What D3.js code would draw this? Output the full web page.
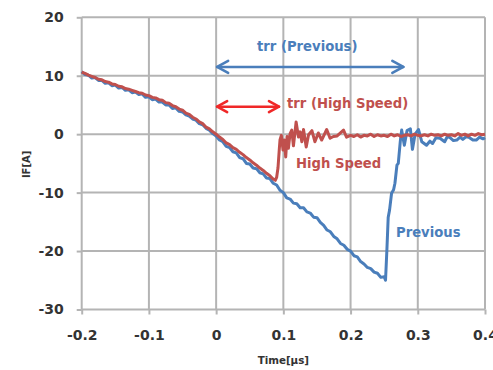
<!DOCTYPE html>
<html><head><meta charset="utf-8">
<script src="https://cdn.jsdelivr.net/npm/d3@7"></script>
<style>body{margin:0;background:#fff}svg{display:block}</style>
</head><body>
<svg id="c" width="493" height="370"></svg>
<script>
const xTicks = [-0.2, -0.1, 0, 0.1, 0.2, 0.3, 0.4];
const yTicks = [20, 10, 0, -10, -20, -30];

const prevTime = [-0.200,-0.195,-0.190,-0.185,-0.180,-0.175,-0.170,-0.165,-0.160,-0.155,-0.150,-0.145,-0.140,-0.135,-0.130,-0.125,-0.120,-0.115,-0.110,-0.105,-0.100,-0.095,-0.090,-0.085,-0.080,-0.075,-0.070,-0.065,-0.060,-0.055,-0.050,-0.045,-0.040,-0.035,-0.030,-0.025,-0.020,-0.015,-0.010,-0.005,0.000,0.005,0.010,0.015,0.020,0.025,0.030,0.035,0.040,0.045,0.050,0.055,0.060,0.065,0.070,0.075,0.080,0.085,0.090,0.095,0.100,0.105,0.110,0.115,0.120,0.125,0.130,0.135,0.140,0.145,0.150,0.155,0.160,0.165,0.170,0.175,0.180,0.185,0.190,0.195,0.200,0.205,0.210,0.215,0.220,0.225,0.230,0.235,0.240,0.245,0.250,0.252,0.254,0.256,0.258,0.261,0.264,0.266,0.269,0.271,0.274,0.276,0.280,0.284,0.289,0.292,0.296,0.301,0.306,0.313,0.318,0.322,0.327,0.333,0.340,0.344,0.348,0.353,0.358,0.363,0.367,0.372,0.377,0.382,0.387,0.392,0.397,0.400];
const prevIF = [10.7,10.2,10.1,9.6,9.7,9.2,9.2,8.7,8.8,8.3,8.4,7.9,8.0,7.5,7.6,7.1,7.2,6.8,6.9,6.3,6.4,5.9,6.0,5.5,5.5,5.0,5.0,4.4,4.5,3.9,3.8,3.3,3.1,2.6,2.4,1.8,1.6,1.0,0.7,0.1,-0.3,-1.0,-1.3,-2.1,-2.3,-3.0,-3.2,-4.0,-4.2,-5.0,-5.1,-5.8,-5.9,-6.6,-6.8,-7.5,-7.6,-8.4,-8.7,-9.6,-10.0,-10.9,-11.1,-11.8,-11.9,-12.6,-12.6,-13.3,-13.5,-14.2,-14.3,-15.1,-15.6,-16.4,-16.7,-17.5,-17.9,-18.7,-19.0,-19.7,-20.0,-20.8,-21.0,-21.8,-22.2,-22.8,-23.0,-23.6,-23.8,-24.5,-24.4,-25.0,-19.9,-14.2,-13.0,-10.1,-9.5,-8.4,-5.3,-5.0,-1.2,0.7,-1.9,0.6,0.9,-2.6,0.0,0.8,-1.3,-1.9,-1.2,-1.6,-0.6,-0.7,-1.3,-0.4,-0.6,-1.1,-1.0,-0.5,-0.9,-0.4,-0.6,-1.0,-1.0,-0.5,-0.8,-0.6];

const hsTime = [-0.200,-0.195,-0.190,-0.185,-0.180,-0.175,-0.170,-0.165,-0.160,-0.155,-0.150,-0.145,-0.140,-0.135,-0.130,-0.125,-0.120,-0.115,-0.110,-0.105,-0.100,-0.095,-0.090,-0.085,-0.080,-0.075,-0.070,-0.065,-0.060,-0.055,-0.050,-0.045,-0.040,-0.035,-0.030,-0.025,-0.020,-0.015,-0.010,-0.005,0.000,0.005,0.010,0.015,0.020,0.025,0.030,0.035,0.040,0.045,0.050,0.055,0.060,0.065,0.070,0.075,0.080,0.084,0.088,0.090,0.092,0.094,0.095,0.097,0.0995,0.1015,0.1035,0.1055,0.1075,0.110,0.1125,0.115,0.119,0.1225,0.125,0.1275,0.130,0.134,0.1375,0.1425,0.147,0.152,0.157,0.1645,0.1695,0.1745,0.180,0.1895,0.194,0.200,0.205,0.210,0.215,0.220,0.225,0.230,0.235,0.240,0.245,0.250,0.255,0.260,0.265,0.270,0.275,0.280,0.285,0.290,0.295,0.300,0.305,0.310,0.315,0.320,0.325,0.330,0.335,0.340,0.345,0.350,0.355,0.360,0.365,0.370,0.375,0.380,0.385,0.390,0.395,0.400];
const hsIF = [10.6,10.4,10.1,9.9,9.7,9.4,9.3,9.0,8.9,8.6,8.5,8.2,8.1,7.8,7.7,7.5,7.3,7.1,7.0,6.7,6.6,6.3,6.2,5.9,5.8,5.4,5.3,4.9,4.7,4.3,4.1,3.6,3.4,2.9,2.6,2.1,1.8,1.2,0.9,0.4,0.0,-0.5,-0.9,-1.5,-1.8,-2.3,-2.6,-3.1,-3.5,-4.0,-4.4,-4.9,-5.3,-5.8,-6.2,-6.7,-7.1,-7.6,-7.9,-7.4,-5.8,-2.5,-1.0,-0.2,-2.7,-1.0,-3.9,-0.4,-2.4,0.1,0.7,-2.0,2.1,-0.5,0.4,-1.3,0.8,-2.2,-0.1,0.6,-1.3,0.2,-1.0,0.8,-0.7,-0.4,-0.3,0.7,-0.5,-0.2,-0.4,-0.1,-0.5,-0.2,-0.3,0.0,-0.4,-0.1,-0.3,-0.2,-0.4,0.0,-0.3,-0.1,-0.4,-0.2,-0.1,-0.3,0.0,-0.2,-0.3,-0.1,-0.3,0.0,-0.2,-0.1,-0.3,0.0,-0.2,-0.1,-0.3,0.1,-0.2,0.0,-0.3,0.0,-0.2,0.1,-0.1,0.0];

// annotation arrows in data units: [startTime, endTime, IF]
const arrowPrev = [0, 0.28, 11.5];
const arrowHS = [0, 0.095, 4.7];
const labels = ["trr (Previous)", "trr (High Speed)", "High Speed", "Previous"];

const svg = d3.select("#c");
const L = 81.7, R = 485, T = 17.3, B = 309.5;
const x = d3.scaleLinear().domain([-0.2, 0.4]).range([L, R]);
const y = d3.scaleLinear().domain([-30, 20]).range([B, T]);
const grid = "#b4b4b4";
const font = "DejaVu Sans, Verdana, sans-serif";

// grid
svg.append("g").selectAll("line").data(xTicks).join("line")
  .attr("x1", d => x(d)).attr("x2", d => x(d)).attr("y1", T).attr("y2", B)
  .attr("stroke", grid).attr("stroke-width", 2);
svg.append("g").selectAll("line").data(yTicks).join("line")
  .attr("x1", L).attr("x2", R).attr("y1", d => y(d)).attr("y2", d => y(d))
  .attr("stroke", grid).attr("stroke-width", 2);

// axes
const ax = svg.append("g").attr("transform", `translate(0,${B})`)
  .call(d3.axisBottom(x).tickValues(xTicks).tickSize(5).tickSizeOuter(0).tickPadding(16)
    .tickFormat(d => String(+d.toFixed(1))));
const ay = svg.append("g").attr("transform", `translate(${L},0)`)
  .call(d3.axisLeft(y).tickValues(yTicks).tickSize(5).tickSizeOuter(0).tickPadding(13)
    .tickFormat(d => String(d)));
[ax, ay].forEach(g => {
  g.select(".domain").remove();
  g.selectAll(".tick line").attr("stroke", grid).attr("stroke-width", 2);
  g.selectAll(".tick text").attr("fill", "#333").attr("font-family", font)
    .attr("font-size", 14).attr("font-weight", "bold");
});

// lines
const line = d3.line().x(d => x(d[0])).y(d => y(d[1]));
svg.append("path").datum(d3.zip(prevTime, prevIF)).attr("d", line)
  .attr("fill", "none").attr("stroke", "#4a7ebb").attr("stroke-width", 3).attr("stroke-linejoin", "round");
svg.append("path").datum(d3.zip(hsTime, hsIF)).attr("d", line)
  .attr("fill", "none").attr("stroke", "#c0504d").attr("stroke-width", 3).attr("stroke-linejoin", "round");

// arrows
function arrow(a, color, hl, hw) {
  const x1 = x(a[0]), x2 = x(a[1]), yy = y(a[2]);
  const g = svg.append("g").attr("stroke", color).attr("stroke-width", 2.6).attr("fill", "none")
    .attr("stroke-linecap", "round").attr("stroke-linejoin", "round");
  g.append("line").attr("x1", x1 + 1).attr("x2", x2 - 1).attr("y1", yy).attr("y2", yy);
  g.append("path").attr("d", `M${x1 + hl},${yy - hw}L${x1 + 1},${yy}L${x1 + hl},${yy + hw}`);
  g.append("path").attr("d", `M${x2 - hl},${yy - hw}L${x2 - 1},${yy}L${x2 - hl},${yy + hw}`);
}
arrow(arrowPrev, "#4a7ebb", 12, 6);
arrow(arrowHS, "#f02828", 11, 5.5);

// labels
function label(t, px, py, color) {
  svg.append("text").text(t).attr("x", px).attr("y", py).attr("fill", color)
    .attr("font-family", font).attr("font-size", 13.2).attr("font-weight", "bold");
}
label(labels[0], 257, 51, "#4a7ebb");
label(labels[1], 287, 108, "#c0504d");
label(labels[2], 296, 168, "#c0504d");
label(labels[3], 396, 237, "#4a7ebb");

// axis titles
svg.append("text").text("Time[μs]").attr("x", (L + R) / 2).attr("y", 364)
  .attr("text-anchor", "middle").attr("font-family", font).attr("font-size", 10.3)
  .attr("font-weight", "bold").attr("fill", "#333");
svg.append("text").text("IF[A]").attr("transform", `translate(30,${(T + B) / 2 + 1}) rotate(-90)`)
  .attr("text-anchor", "middle").attr("font-family", font).attr("font-size", 10)
  .attr("font-weight", "bold").attr("fill", "#333");
</script>
</body></html>
